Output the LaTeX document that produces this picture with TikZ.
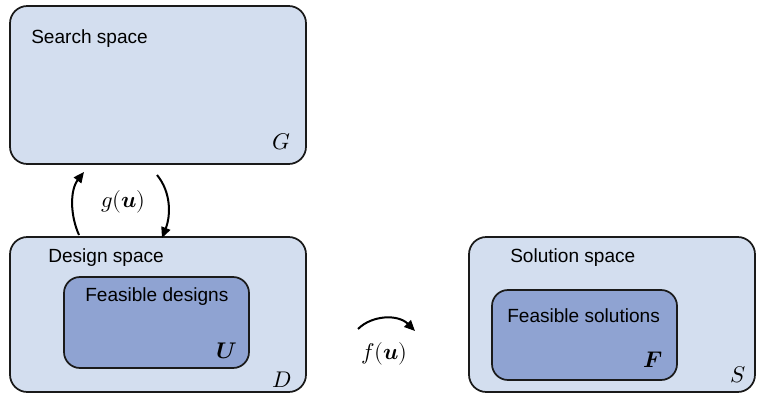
\documentclass[tikz,border=0pt]{standalone}
\usepackage{fontspec}
\setmainfont{Liberation Sans}
\usepackage{unicode-math}
\setmathfont{Latin Modern Math}
\usetikzlibrary{arrows.meta}
\definecolor{outerfill}{HTML}{D3DEEF}
\definecolor{innerfill}{HTML}{8FA3D2}
\definecolor{edge}{HTML}{1A1A1A}
\tikzset{
  space/.style={draw=edge, line width=1.3pt, rounded corners=13pt, fill=outerfill, inner sep=0pt},
  feasible/.style={draw=edge, line width=1.3pt, rounded corners=12pt, fill=innerfill, inner sep=0pt},
  lbl/.style={anchor=base west, inner sep=0pt, font=\fontsize{14.3pt}{16pt}\selectfont},
  sym/.style={anchor=base east, inner sep=0pt, font=\fontsize{17pt}{19pt}\selectfont},
  maplbl/.style={anchor=base west, inner sep=0pt, font=\fontsize{17pt}{19pt}\selectfont},
  maparrow/.style={line width=1.5pt, -{Triangle[length=8pt,width=7pt]}}
}
\begin{document}
\begin{tikzpicture}[x=0.75pt, y=-0.75pt]
\useasboundingbox (0,0) rectangle (757,396);
% boxes
\node[space, minimum width=222pt, minimum height=118.5pt] (search) at (158,85) {};
\node[space, minimum width=222pt, minimum height=116.25pt] (design) at (158,314.5) {};
\node[feasible, minimum width=138.75pt, minimum height=68.25pt] (fdes) at (156.5,322.5) {};
\node[space, minimum width=214.5pt, minimum height=116.25pt] (sol) at (612,314.5) {};
\node[feasible, minimum width=138.75pt, minimum height=67.5pt] (fsol) at (584.5,335) {};
% labels
\node[lbl] (tsearch) at (31,43) {Search space};
\node[lbl] (tdesign) at (48,262) {Design space};
\node[lbl] (tfdes) at (85,301) {Feasible designs};
\node[lbl] (tsol) at (510,262) {Solution space};
\node[lbl] (tfsol) at (507,322) {Feasible solutions};
\node[sym] (sG) at (291,149) {$G$};
\node[sym] (sD) at (292,387) {$D$};
\node[sym] (sU) at (237,358) {$\symbfit{U}$};
\node[sym] (sF) at (663,367) {$\symbfit{F}$};
\node[sym] (sS) at (746,382) {$S$};
\node[maplbl] (gu) at (101,207) {$g(\symbfit{u})$};
\node[maplbl] (fu) at (361,359) {$f(\symbfit{u})$};
% arrows
\coordinate (g1s) at (79,235);
\coordinate (g1e) at (84,172);
\coordinate (g2s) at (157,175);
\coordinate (g2e) at (162,238);
\coordinate (f1s) at (358,329);
\coordinate (f1e) at (415,331);
\draw[maparrow] (g1s) .. controls (70,215) and (70,190) .. (g1e);
\draw[maparrow] (g2s) .. controls (171,192) and (171,215) .. (g2e);
\draw[maparrow] (f1s) .. controls (372,315) and (398,314) .. (f1e);
\end{tikzpicture}
\end{document}
